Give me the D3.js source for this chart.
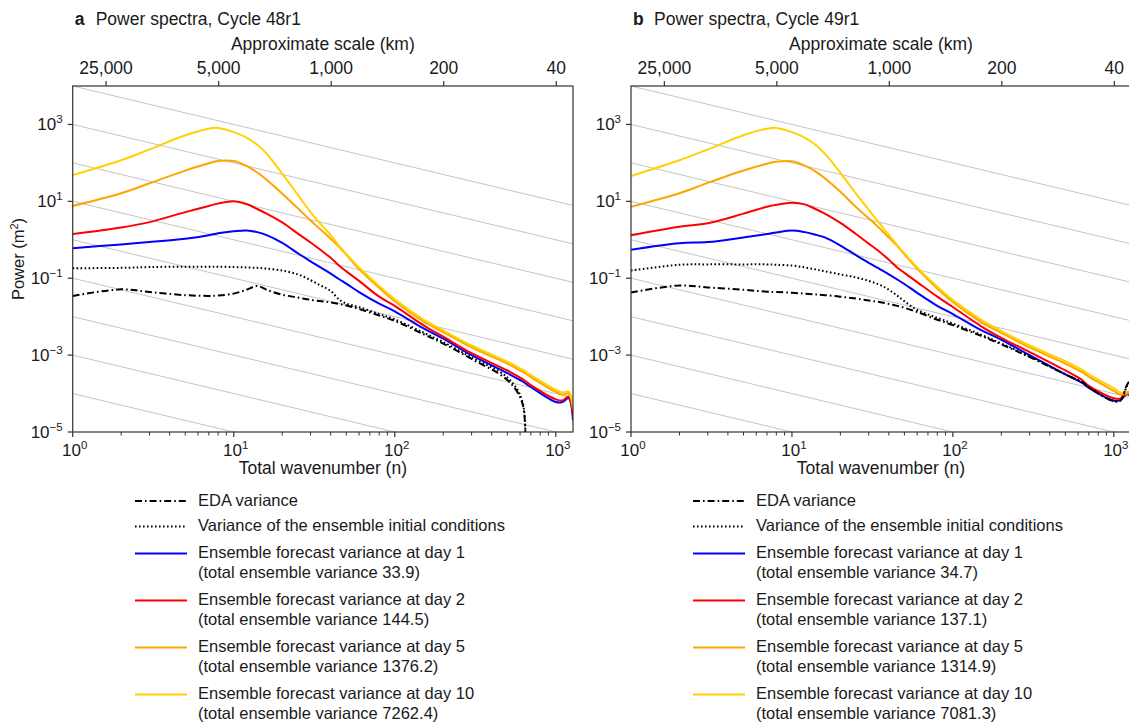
<!DOCTYPE html>
<html>
<head>
<meta charset="utf-8">
<script src="https://cdn.jsdelivr.net/npm/d3@7"></script>
<style>
body { margin: 0; background: #fff; }
text { font-family: "Liberation Sans", Arial, Helvetica, sans-serif; fill: #1a1a1a; }
</style>
</head>
<body>
<svg id="chart" width="1129" height="726"></svg>
<script>
// total wavenumber grid shared by all curves
const wavenumbers = [1, 2, 3, 5, 7, 8, 10, 12, 14, 16, 20, 25, 30, 35, 40, 45, 50, 60, 80, 100,
    150, 200, 300, 500, 620, 640, 700, 1000, 1100, 1200, 1279]

// Cycle 48r1 (panel a), power in m^2
const eda48 = [0.0347, 0.0513, 0.0437, 0.0363, 0.0347, 0.0355, 0.0398, 0.0501, 0.0631, 0.0501, 0.0372, 0.0316, 0.0275, 0.0251, 0.0234, 0.0214, 0.0195, 0.0158, 0.0107, 7.76e-3,
    3.55e-3, 2.0e-3, 7.94e-4, 2.24e-4, 5.62e-5, 1e-6, null, null, null, null, null]
const init48 = [0.182, 0.186, 0.195, 0.2, 0.2, 0.2, 0.195, 0.191, 0.186, 0.178, 0.158, 0.126, 0.0891, 0.0631, 0.0468, 0.0282, 0.0219, 0.0178, 0.0117, 8.51e-3,
    3.89e-3, 2.19e-3, 8.71e-4, 2.63e-4, 6.31e-5, 1e-6, null, null, null, null, null]
const day1_48 = [0.603, 0.759, 0.871, 1.07, 1.32, 1.48, 1.66, 1.74, 1.58, 1.32, 0.832, 0.447, 0.275, 0.186, 0.132, 0.0955, 0.0724, 0.0437, 0.0219, 0.0138,
    5.01e-3, 2.69e-3, 1.0e-3, 3.39e-4, 2.09e-4, 1.91e-4, 1.48e-4, 6.03e-5, 6.03e-5, 7.59e-5, 2.0e-5]
const day2_48 = [1.41, 2.09, 2.88, 5.25, 7.59, 8.71, 10.0, 8.51, 6.31, 4.79, 2.82, 1.45, 0.851, 0.525, 0.339, 0.214, 0.151, 0.0851, 0.0331, 0.0191,
    6.03e-3, 3.02e-3, 1.12e-3, 3.98e-4, 2.40e-4, 2.19e-4, 1.66e-4, 7.08e-5, 6.61e-5, 8.32e-5, 2.51e-5]
const day5_48 = [7.59, 16.2, 29.5, 63.1, 97.7, 112, 112, 83.2, 56.2, 36.3, 15.8, 6.61, 3.16, 1.78, 1.07, 0.661, 0.407, 0.174, 0.0562, 0.0251,
    7.59e-3, 3.98e-3, 1.58e-3, 6.03e-4, 3.72e-4, 3.47e-4, 2.69e-4, 1.10e-4, 9.33e-5, 1.0e-4, 3.98e-5]
const day10_48 = [48, 117, 224, 525, 776, 813, 631, 457, 295, 174, 52.5, 14.8, 5.25, 2.45, 1.32, 0.708, 0.427, 0.191, 0.0631, 0.0282,
    8.51e-3, 4.37e-3, 1.78e-3, 6.76e-4, 4.17e-4, 3.89e-4, 3.02e-4, 1.26e-4, 1.07e-4, 1.12e-4, 5.0e-5]

// Cycle 49r1 (panel b)
const eda49 = [0.0427, 0.0646, 0.0575, 0.0501, 0.0447, 0.0437, 0.0417, 0.0398, 0.038, 0.0363, 0.0331, 0.0295, 0.0263, 0.024, 0.0214, 0.0191, 0.017, 0.0132, 8.32e-3, 6.03e-3,
    3.16e-3, 1.91e-3, 8.91e-4, 3.16e-4, 2.09e-4, 1.95e-4, 1.45e-4, 6.31e-5, 6.61e-5, 1.58e-4, 2.51e-4]
const init49 = [0.158, 0.224, 0.229, 0.229, 0.229, 0.224, 0.214, 0.191, 0.17, 0.151, 0.126, 0.105, 0.0851, 0.0676, 0.0501, 0.0355, 0.0251, 0.0151, 9.33e-3, 6.61e-3,
    3.39e-3, 2.0e-3, 9.33e-4, 3.16e-4, 2.09e-4, 1.95e-4, 1.45e-4, 6.31e-5, 6.61e-5, 1.51e-4, 2.4e-4]
const day1_49 = [0.55, 0.813, 0.871, 1.15, 1.41, 1.55, 1.74, 1.58, 1.35, 1.15, 0.708, 0.398, 0.251, 0.174, 0.126, 0.0933, 0.0708, 0.0417, 0.0191, 0.0117,
    4.47e-3, 2.51e-3, 1.0e-3, 3.16e-4, 2.0e-4, 1.86e-4, 1.41e-4, 6.61e-5, 6.76e-5, 9.55e-5, 8.91e-5]
const day2_49 = [1.32, 2.19, 2.69, 4.79, 7.24, 8.13, 9.12, 8.32, 6.31, 4.79, 2.75, 1.41, 0.794, 0.49, 0.302, 0.191, 0.138, 0.0794, 0.0331, 0.0178,
    5.62e-3, 2.82e-3, 1.2e-3, 3.98e-4, 2.4e-4, 2.19e-4, 1.58e-4, 7.59e-5, 7.41e-5, 1.0e-4, 1.0e-4]
const day5_49 = [7.24, 16.2, 30.2, 63.1, 95.5, 107, 110, 85.1, 60.3, 39.8, 17.8, 7.08, 3.63, 2.0, 1.15, 0.692, 0.417, 0.178, 0.0537, 0.024,
    7.24e-3, 3.8e-3, 1.58e-3, 6.03e-4, 3.8e-4, 3.55e-4, 2.75e-4, 1.17e-4, 9.33e-5, 1.0e-4, 1.05e-4]
const day10_49 = [45.7, 117, 224, 525, 776, 813, 631, 457, 295, 174, 55.0, 15.8, 6.03, 2.69, 1.35, 0.741, 0.447, 0.191, 0.0603, 0.0269,
    8.32e-3, 4.27e-3, 1.78e-3, 6.92e-4, 4.37e-4, 4.07e-4, 3.16e-4, 1.38e-4, 1.05e-4, 1.12e-4, 1.17e-4]

const totals48 = ["33.9", "144.5", "1376.2", "7262.4"]
const totals49 = ["34.7", "137.1", "1314.9", "7081.3"]
const forecastDays = [1, 2, 5, 10]

const scaleKm = [25000, 5000, 1000, 200, 40]
const powerTicks = [1e-5, 1e-3, 1e-1, 1e1, 1e3]
const waveTicks = [1, 10, 100, 1000]
const guideDecades = [-4, -3, -2, -1, 0, 1, 2, 3, 4]   // grey n^-1 reference lines

const styles = {
    eda: { color: "#000", width: 2, dash: "7,3,1.6,3" },
    init: { color: "#000", width: 2, dash: "1.6,2.4" },
    day1: { color: "#0000ff", width: 2, dash: null },
    day2: { color: "#ff0000", width: 2, dash: null },
    day5: { color: "#ffa500", width: 2, dash: null },
    day10: { color: "#ffd200", width: 2, dash: null }
}

const svg = d3.select("#chart")
svg.append("rect").attr("width", 1129).attr("height", 726).attr("fill", "#fff")

const yTop = 86, yBot = 432
const y = d3.scaleLog().domain([1e-5, 1e4]).range([yBot, yTop])

const panels = [
    { id: "a", x0: 72.7, x1: 573, title: "Power spectra, Cycle 48r1", yLabel: true, legendX: 135, totals: totals48,
      series: { day1: day1_48, day2: day2_48, day5: day5_48, day10: day10_48, eda: eda48, init: init48 } },
    { id: "b", x0: 631, x1: 1131, title: "Power spectra, Cycle 49r1", yLabel: false, legendX: 693, totals: totals49,
      series: { day1: day1_49, day2: day2_49, day5: day5_49, day10: day10_49, eda: eda49, init: init49 } }
]

function powText(sel, exp) {
    sel.append("tspan").text("10")
    sel.append("tspan").attr("dy", -7).attr("font-size", 11.5).text(exp < 0 ? "\u2212" + (-exp) : exp)
}

panels.forEach(function (p) {
    const x = d3.scaleLog().domain([1, 1279]).range([p.x0, p.x1])
    const xKm = d3.scaleLog().domain([40000, 40000 / 1279]).range([p.x0, p.x1])
    const g = svg.append("g")

    g.append("clipPath").attr("id", "clip-" + p.id)
        .append("rect").attr("x", p.x0).attr("y", yTop).attr("width", p.x1 - p.x0).attr("height", yBot - yTop)

    const plot = g.append("g").attr("clip-path", "url(#clip-" + p.id + ")")

    // grey guide lines, slope -1
    guideDecades.forEach(function (k) {
        plot.append("line")
            .attr("x1", x(1)).attr("y1", y(Math.pow(10, k)))
            .attr("x2", x(1279)).attr("y2", y(Math.pow(10, k) / 1279))
            .attr("stroke", "#bdbdbd").attr("stroke-width", 0.9)
    })

    const line = d3.line()
        .defined(d => d[1] != null)
        .x(d => x(d[0]))
        .y(d => y(d[1]))
        .curve(d3.curveCatmullRom.alpha(0.5))

    const order = ["day1", "day2", "day5", "day10", "init", "eda"]
    order.forEach(function (key) {
        const vals = p.series[key]
        const st = styles[key]
        plot.append("path")
            .datum(wavenumbers.map((n, i) => [n, vals[i]]))
            .attr("d", line)
            .attr("fill", "none")
            .attr("stroke", st.color)
            .attr("stroke-width", st.width)
            .attr("stroke-dasharray", st.dash)
    })

    // frame
    g.append("rect").attr("x", p.x0).attr("y", yTop).attr("width", p.x1 - p.x0).attr("height", yBot - yTop)
        .attr("fill", "none").attr("stroke", "#333").attr("stroke-width", 1.2)

    // bottom axis: major + minor ticks
    const minor = []
    for (let k = 0; k < 4; k++) {
        for (let m = 2; m < 10; m++) {
            const n = m * Math.pow(10, k)
            if (n <= 1279) minor.push(n)
        }
    }
    g.selectAll(".minor").data(minor).enter().append("line")
        .attr("x1", d => x(d)).attr("x2", d => x(d))
        .attr("y1", yBot).attr("y2", yBot + 3.5)
        .attr("stroke", "#333").attr("stroke-width", 1)
    g.selectAll(".major").data(waveTicks).enter().append("line")
        .attr("x1", d => x(d)).attr("x2", d => x(d))
        .attr("y1", yBot).attr("y2", yBot + 5)
        .attr("stroke", "#333").attr("stroke-width", 1.2)
    waveTicks.forEach(function (n, i) {
        const t = g.append("text").attr("x", x(n) + 2).attr("y", 456)
            .attr("text-anchor", "middle").attr("font-size", 17)
        powText(t, i)
    })
    g.append("text").attr("x", (p.x0 + p.x1) / 2).attr("y", 474)
        .attr("text-anchor", "middle").attr("font-size", 17.5).text("Total wavenumber (n)")

    // left axis
    g.selectAll(".ytick").data(powerTicks).enter().append("line")
        .attr("x1", p.x0 - 5).attr("x2", p.x0)
        .attr("y1", d => y(d)).attr("y2", d => y(d))
        .attr("stroke", "#333").attr("stroke-width", 1.2)
    powerTicks.forEach(function (v) {
        const t = g.append("text").attr("x", p.x0 - 10).attr("y", y(v) + 6)
            .attr("text-anchor", "end").attr("font-size", 17)
        powText(t, Math.round(Math.log10(v)))
    })
    if (p.yLabel) {
        const t = g.append("text").attr("transform", "translate(24," + ((yTop + yBot) / 2) + ") rotate(-90)")
            .attr("text-anchor", "middle").attr("font-size", 16.5)
        t.append("tspan").text("Power (m")
        t.append("tspan").attr("dy", -6).attr("font-size", 11).text("2")
        t.append("tspan").attr("dy", 6).text(")")
    }

    // top axis: approximate scale
    const topAxis = d3.axisTop(xKm).tickValues(scaleKm).tickSize(5).tickFormat(d3.format(","))
    const ta = g.append("g").attr("transform", "translate(0," + yTop + ")").call(topAxis)
    ta.select(".domain").remove()
    ta.selectAll(".tick line").attr("stroke", "#333").attr("stroke-width", 1.2)
    ta.selectAll(".tick text").attr("font-size", 17.5).attr("font-family", null).attr("y", -12).attr("dy", 0)
        .style("fill", "#1a1a1a")
    g.append("text").attr("x", (p.x0 + p.x1) / 2).attr("y", 50)
        .attr("text-anchor", "middle").attr("font-size", 17.5).text("Approximate scale (km)")

    // panel title
    g.append("text").attr("x", p.x0 + 2).attr("y", 25).attr("font-size", 17.5)
        .attr("font-weight", "bold").text(p.id)
    g.append("text").attr("x", p.x0 + 23).attr("y", 25).attr("font-size", 17.5).text(p.title)

    // legend
    const rows = [
        { key: "eda", lines: ["EDA variance"], y: 499.5 },
        { key: "init", lines: ["Variance of the ensemble initial conditions"], y: 525 }
    ]
    forecastDays.forEach(function (d, i) {
        rows.push({
            key: "day" + d,
            lines: ["Ensemble forecast variance at day " + d, "(total ensemble variance " + p.totals[i] + ")"],
            y: 552 + i * 47
        })
    })
    const lg = g.append("g")
    rows.forEach(function (r) {
        const st = styles[r.key]
        lg.append("line")
            .attr("x1", p.legendX).attr("x2", p.legendX + 52)
            .attr("y1", r.y + 1.5).attr("y2", r.y + 1.5)
            .attr("stroke", st.color).attr("stroke-width", st.width)
            .attr("stroke-dasharray", st.dash)
        r.lines.forEach(function (s, j) {
            lg.append("text").attr("x", p.legendX + 63).attr("y", r.y + 6 + j * 20)
                .attr("font-size", 16.5).text(s)
        })
    })
})
</script>
</body>
</html>
